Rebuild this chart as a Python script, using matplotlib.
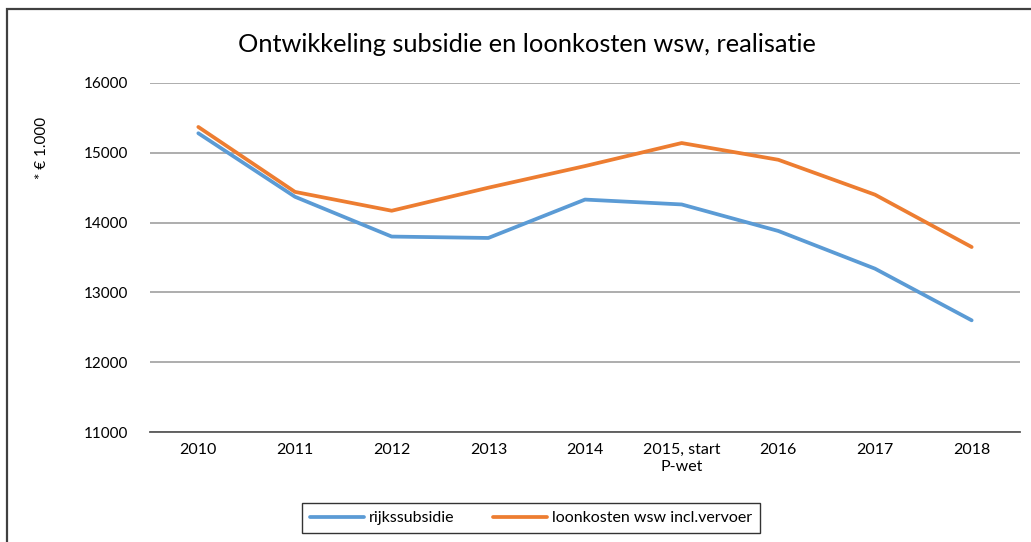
import matplotlib
matplotlib.use("Agg")
import matplotlib.pyplot as plt
from matplotlib.patches import Rectangle

plt.rcParams['font.family'] = ['Lato', 'DejaVu Sans']

categories = ["2010", "2011", "2012", "2013", "2014", "2015, start\nP-wet", "2016", "2017", "2018"]
rijkssubsidie = [15280, 14370, 13800, 13780, 14330, 14260, 13880, 13340, 12600]
loonkosten = [15370, 14440, 14170, 14500, 14810, 15140, 14900, 14400, 13650]
yticks = [11000, 12000, 13000, 14000, 15000, 16000]

W, H = 1031, 542
fig = plt.figure(figsize=(W / 100, H / 100), dpi=100)

# outer chart border (left and top visible)
fig.add_artist(Rectangle((7 / W, -0.1), 1.2, 1 - 9 / H + 0.1, transform=fig.transFigure,
                         fill=False, edgecolor='#404040', linewidth=1.6))

ax = fig.add_axes([150 / W, 1 - 432 / H, (1020 - 150) / W, (432 - 83) / H])
x = list(range(len(categories)))
ax.plot(x, rijkssubsidie, color='#5B9BD5', linewidth=2.7, solid_capstyle='round',
        label='rijkssubsidie', zorder=3)
ax.plot(x, loonkosten, color='#ED7D31', linewidth=2.7, solid_capstyle='round',
        label='loonkosten wsw incl.vervoer', zorder=3)

ax.set_xlim(-0.5, len(categories) - 0.5)
ax.set_ylim(11000, 16000)
ax.set_yticks(yticks)
ax.set_yticklabels([str(v) for v in yticks], fontsize=11, color='#000000')
ax.set_xticks(x)
ax.set_xticklabels(categories, fontsize=11.5, color='#000000', linespacing=1.3)
ax.tick_params(axis='both', length=0)
ax.tick_params(axis='y', pad=16)
ax.tick_params(axis='x', pad=8)
ax.yaxis.grid(True, color='#a0a0a0', linewidth=1.2)
ax.set_axisbelow(True)
for s in ['left', 'right', 'top']:
    ax.spines[s].set_visible(False)
ax.spines['bottom'].set_color('#595959')
ax.spines['bottom'].set_linewidth(1.3)

fig.text(527 / W, 1 - 45 / H, "Ontwikkeling subsidie en loonkosten wsw, realisatie",
         ha='center', va='center', fontsize=18.3)
fig.text(42 / W, 1 - 148 / H, "* € 1.000", rotation=90, ha='center', va='center', fontsize=11)

leg = fig.legend(loc='center', bbox_to_anchor=(531 / W, 1 - 518 / H), ncol=2,
                 fontsize=11.5, frameon=True, fancybox=False, handlelength=3.4,
                 columnspacing=2.4, handletextpad=0.3, borderpad=0.5, borderaxespad=0,
                 handleheight=0.7)
leg.get_frame().set_edgecolor('#000000')
leg.get_frame().set_linewidth(1.0)
leg._legend_box.sep = 0
leg.get_frame().set_boxstyle('square', pad=0)

fig.savefig("out.png", dpi=100)
